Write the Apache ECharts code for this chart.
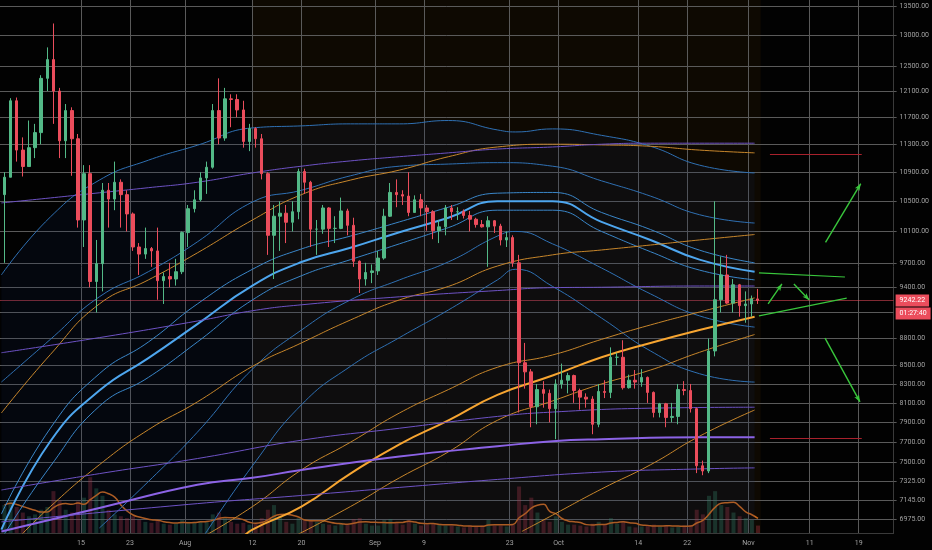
<!DOCTYPE html>
<html>
<head>
<meta charset="utf-8">
<script src="https://cdn.jsdelivr.net/npm/echarts/dist/echarts.min.js"></script>
<style>
  html, body { margin: 0; padding: 0; background: #020202; }
  #chart { width: 932px; height: 550px; }
</style>
</head>
<body>
<div id="chart"></div>
<script>
// ---- data ----
var firstDay = '2019-07-02';
// daily candles: [open, high, low, close]
var candles = [
  // Jul 2 - Jul 31
  [10590,10900,9700,10830],[10830,11990,10830,11950],[11950,12000,11050,11215],[11215,11400,10840,10980],
  [10980,11650,10980,11250],[11250,11600,11100,11470],[11470,12350,11300,12300],[12300,12800,12100,12600],
  [12600,13200,11600,12100],[12100,12150,11100,11350],[11350,11900,11100,11800],[11800,11850,10850,11380],
  [11380,11450,10150,10250],[10250,11000,9900,10880],[10880,11000,9400,9470],[9470,9990,9100,9690],
  [9690,10750,9350,10650],[10650,10750,10150,10530],[10530,11050,10380,10760],[10760,10800,10150,10590],
  [10590,10650,10100,10330],[10330,10350,9850,9900],[9900,9950,9550,9810],[9810,10150,9750,9880],
  [9880,9900,9650,9850],[9850,10150,9250,9480],[9480,9580,9200,9530],[9530,9700,9400,9500],
  [9500,9750,9420,9590],[9590,10100,9560,10085],
  // Aug
  [10085,10450,9900,10400],[10400,10650,10350,10520],[10520,10900,10500,10820],[10820,11050,10600,10970],
  [10970,11900,10950,11800],[11800,12300,11300,11390],[11390,12150,11350,11980],[11980,12050,11550,11970],
  [11970,12050,11700,11810],[11810,11950,11250,11340],[11340,11600,11200,11530],[11530,11550,11250,11380],
  [11380,11450,10800,10880],[10880,10900,9800,10050],[10050,10450,9500,10300],[10300,10500,9850,10340],
  [10340,10450,9950,10220],[10220,10500,10100,10360],[10360,10950,10260,10910],[10910,10950,10600,10760],
  [10760,10780,9900,10130],[10130,10250,9800,10130],[10130,10450,10070,10410],[10410,10420,9900,10140],
  [10140,10300,9950,10140],[10140,10550,10130,10370],[10370,10400,10050,10180],[10180,10280,9650,9720],
  [9720,9730,9330,9500],[9500,9700,9420,9580],[9580,9680,9450,9600],
  // Sep
  [9600,9850,9550,9760],[9760,10400,9740,10300],[10300,10750,10290,10620],[10620,10800,10420,10590],
  [10590,10650,10450,10570],[10570,10900,10300,10350],[10350,10580,10350,10520],[10520,10600,10300,10410],
  [10410,10450,10110,10360],[10360,10380,10000,10110],[10110,10250,9950,10160],[10160,10450,10050,10410],
  [10410,10450,10250,10360],[10360,10420,10250,10360],[10360,10390,10270,10310],[10310,10370,10100,10260],
  [10260,10280,10150,10190],[10190,10250,10150,10160],[10160,10300,9650,10240],[10240,10250,10080,10170],
  [10170,10200,9920,9990],[9990,10100,9900,10020],[10020,10050,9650,9700],[9700,9800,8000,8530],
  [8530,8750,8250,8430],[8430,8460,7850,8060],[8060,8300,7880,8240],[8240,8330,8050,8200],
  [8200,8240,7900,8040],[8040,8350,7730,8300],
  // Oct
  [8300,8520,8250,8340],[8340,8420,8200,8390],[8390,8400,8100,8230],[8230,8250,8030,8160],
  [8160,8200,8050,8140],[8140,8170,7780,7880],[7880,8300,7850,8220],[8220,8340,8150,8210],
  [8210,8700,8150,8590],[8590,8640,8500,8590],[8590,8780,8240,8260],[8260,8400,8250,8340],
  [8340,8450,8250,8320],[8320,8460,8270,8370],[8370,8380,8100,8210],[8210,8220,7950,8000],
  [8000,8100,7950,8090],[8090,8100,7850,7950],[7950,8100,7900,7960],[7960,8300,7880,8240],
  [8240,8330,8180,8230],[8230,8300,8000,8040],[8040,8050,7400,7470],[7470,7520,7380,7420],
  [7420,8800,7400,8660],[8660,10500,8600,9250],[9250,9780,9100,9550],[9550,9800,9200,9210],
  [9210,9500,9100,9430],[9430,9440,9050,9180],[9180,9350,8980,9200],
  // Nov
  [9200,9300,9050,9260],[9260,9380,9200,9242.22]
];
var volumes = [
  30,34,28,22,18,20,25,28,45,35,25,22,34,
  38,60,48,40,25,20,18,16,
  18,14,12,11,14,10,9,10,14,
  12,11,13,12,20,22,16,12,10,11,9,
  10,16,25,30,18,12,10,16,14,
  14,12,10,9,8,11,9,15,16,10,8,
  8,14,15,11,9,14,10,8,9,10,
  9,8,8,7,6,8,7,8,14,8,8,7,9,
  50,30,38,22,14,12,18,
  12,9,9,8,7,10,12,9,16,10,13,7,6,
  7,8,9,7,8,6,7,8,8,
  25,20,40,45,30,28,22,18,16,14,8
];

var xTickDates = ['2019-07-15','2019-07-23','2019-08-01','2019-08-12','2019-08-20','2019-09-01','2019-09-09',
                  '2019-09-23','2019-10-01','2019-10-14','2019-10-22','2019-11-01','2019-11-11','2019-11-19'];
var xTickLabels = ['15','23','Aug','12','20','Sep','9','23','Oct','14','22','Nov','11','19'];
var yTicks = [13500,13000,12500,12100,11700,11300,10900,10500,10100,9700,9400,9100,
              8800,8500,8300,8100,7900,7700,7500,7325,7145,6975];

var lastPrice = 9242.22;
var countdown = '01:27:40';

// moving averages, [date, price]
var maBlueTop = [['2019-07-02',9550],['2019-07-10',10290],['2019-07-18',10790],['2019-07-26',11070],['2019-08-03',11285],
  ['2019-08-12',11540],['2019-08-20',11570],['2019-08-28',11600],['2019-09-05',11600],['2019-09-13',11650],['2019-09-21',11510],
  ['2019-09-24',11480],['2019-09-30',11525],['2019-10-08',11430],['2019-10-16',11270],['2019-10-24',11000],['2019-11-02',10890]];
var maBlue2 = [['2019-07-02',8320],['2019-07-10',8790],['2019-07-18',9285],['2019-07-26',9590],['2019-08-03',9965],
  ['2019-08-12',10490],['2019-08-20',10650],['2019-08-28',10850],['2019-09-05',10985],['2019-09-13',11015],['2019-09-21',11035],
  ['2019-09-30',10985],['2019-10-08',10780],['2019-10-16',10570],['2019-10-24',10320],['2019-11-02',10210]];
var maBlue3a = [['2019-07-02',7020],['2019-07-10',7840],['2019-07-18',8410],['2019-07-26',8760],['2019-08-03',9200],
  ['2019-08-12',9620],['2019-08-20',9875],['2019-08-28',10040],['2019-09-05',10225],['2019-09-13',10420],['2019-09-21',10610],
  ['2019-09-30',10620],['2019-10-08',10350],['2019-10-16',10125],['2019-10-24',9860],['2019-11-02',9700]];
var maBlue3 = [['2019-07-02',6880],['2019-07-10',7710],['2019-07-18',8230],['2019-07-26',8580],['2019-08-03',8965],
  ['2019-08-12',9420],['2019-08-20',9710],['2019-08-28',9890],['2019-09-05',10090],['2019-09-13',10280],['2019-09-21',10500],
  ['2019-09-30',10500],['2019-10-08',10225],['2019-10-16',9990],['2019-10-24',9740],['2019-11-02',9590]];
var maBlue3b = [['2019-07-02',6800],['2019-07-10',7465],['2019-07-18',8065],['2019-07-26',8370],['2019-08-03',8760],
  ['2019-08-12',9248],['2019-08-20',9540],['2019-08-28',9740],['2019-09-05',9940],['2019-09-13',10150],['2019-09-21',10380],
  ['2019-09-30',10380],['2019-10-08',10100],['2019-10-16',9840],['2019-10-24',9610],['2019-11-02',9490]];
var maBlue4 = [['2019-07-18',6895],['2019-07-26',7320],['2019-08-03',7800],['2019-08-12',8460],['2019-08-20',8896],
  ['2019-08-28',9248],['2019-09-05',9489],['2019-09-13',9712],['2019-09-21',10040],['2019-09-24',10100],['2019-09-30',9940],
  ['2019-10-08',9636],['2019-10-16',9320],['2019-10-24',9060],['2019-11-02',8930]];
var maBlue5 = [['2019-08-04',6820],['2019-08-12',7470],['2019-08-20',8080],['2019-08-28',8490],['2019-09-05',8810],
  ['2019-09-13',9129],['2019-09-21',9489],['2019-09-24',9620],['2019-09-30',9410],['2019-10-08',9035],['2019-10-16',8660],
  ['2019-10-24',8410],['2019-11-02',8320]];
var maOrange1 = [['2019-07-02',7995],['2019-07-10',8620],['2019-07-18',9200],['2019-07-26',9489],['2019-08-03',9825],
  ['2019-08-12',10250],['2019-08-20',10590],['2019-08-28',10790],['2019-09-05',10930],['2019-09-13',11120],['2019-09-21',11260],
  ['2019-09-30',11300],['2019-10-08',11290],['2019-10-16',11270],['2019-10-24',11215],['2019-11-02',11175]];
var maOrange2 = [['2019-07-05',6820],['2019-07-10',7088],['2019-07-18',7480],['2019-07-26',7825],['2019-08-03',8110],
  ['2019-08-12',8490],['2019-08-20',8750],['2019-08-28',9012],['2019-09-05',9248],['2019-09-13',9410],['2019-09-21',9660],
  ['2019-09-30',9800],['2019-10-08',9862],['2019-10-16',9925],['2019-10-24',9990],['2019-11-02',10060]];
var maOrange3 = [['2019-08-03',6790],['2019-08-12',7088],['2019-08-20',7431],['2019-08-28',7700],['2019-09-05',7995],
  ['2019-09-13',8240],['2019-09-21',8480],['2019-09-30',8615],['2019-10-08',8790],['2019-10-16',8955],
  ['2019-10-24',9105],['2019-11-02',9272]];
var maOrange4 = [['2019-08-10',6790],['2019-08-12',6880],['2019-08-20',7088],['2019-08-28',7395],['2019-09-05',7680],
  ['2019-09-13',7920],['2019-09-21',8184],['2019-09-30',8390],['2019-10-08',8590],['2019-10-16',8750],
  ['2019-10-24',8896],['2019-11-02',9050]];
var maOrange5 = [['2019-08-18',6800],['2019-08-28',7088],['2019-09-05',7355],['2019-09-13',7605],['2019-09-21',7920],
  ['2019-09-30',8120],['2019-10-08',8300],['2019-10-16',8450],['2019-10-24',8645],['2019-11-02',8845]];
var maOrange6 = [['2019-09-25',6865],['2019-09-30',7010],['2019-10-08',7250],['2019-10-16',7480],['2019-10-24',7760],
  ['2019-11-02',8026]];
var maPurple1 = [['2019-07-02',10478],['2019-07-10',10545],['2019-07-18',10615],['2019-07-26',10685],['2019-08-03',10760],
  ['2019-08-12',10890],['2019-08-20',10985],['2019-08-28',11060],['2019-09-05',11120],['2019-09-13',11175],['2019-09-21',11230],
  ['2019-09-30',11260],['2019-10-08',11300],['2019-10-16',11315],['2019-10-24',11315],['2019-11-02',11315]];
var maPurple2 = [['2019-07-02',8640],['2019-07-18',8810],['2019-08-03',9000],['2019-08-12',9120],['2019-08-20',9190],
  ['2019-09-05',9285],['2019-09-21',9360],['2019-09-30',9395],['2019-10-08',9400],['2019-10-24',9415],['2019-11-02',9415]];
var maPurple3 = [['2019-07-02',7241],['2019-07-18',7395],['2019-08-03',7540],['2019-08-20',7720],['2019-09-05',7840],
  ['2019-09-21',7960],['2019-09-30',8005],['2019-10-16',8045],['2019-11-02',8055]];
var maPurple4 = [['2019-07-02',6865],['2019-07-18',7075],['2019-08-03',7290],['2019-08-12',7355],['2019-08-20',7430],
  ['2019-09-05',7560],['2019-09-21',7660],['2019-09-30',7710],['2019-10-08',7730],['2019-10-24',7750],['2019-11-02',7750]];
var maPurple5 = [['2019-07-02',6950],['2019-08-03',7115],['2019-08-20',7190],['2019-09-05',7265],['2019-09-21',7340],
  ['2019-10-08',7410],['2019-10-24',7440],['2019-11-02',7450]];

// hand drawings on the right
var trendLines = [
  [['2019-11-02 17:00',9575],['2019-11-16 18:00',9525]],
  [['2019-11-02 17:00',9060],['2019-11-17 01:00',9270]]
];
var arrows = [
  [['2019-11-04 05:00',9200],['2019-11-06 11:00',9440]],
  [['2019-11-08 10:00',9440],['2019-11-10 22:00',9248]],
  [['2019-11-13 14:00',9960],['2019-11-19 08:00',10740]],
  [['2019-11-13 12:00',8805],['2019-11-19 05:00',8110]]
];
var levels = [
  [['2019-11-04 12:00',11160],['2019-11-19 12:00',11160]],
  [['2019-11-04 12:00',7740],['2019-11-19 12:00',7740]]
];

// ---- helpers ----
function dayIndex(s) {
  var p = s.split(/[- :]/);
  var t = Date.UTC(+p[0], +p[1] - 1, +p[2], +(p[3] || 0), +(p[4] || 0));
  return (t - Date.UTC(2019, 6, 1)) / 86400000;
}
function seg(pair) {
  return [{ coord: [dayIndex(pair[0][0]), pair[0][1]] }, { coord: [dayIndex(pair[1][0]), pair[1][1]] }];
}

var d0 = dayIndex(firstDay);
var xMin = 0.776, xMax = 146.7;
var upColor = '#53b987', downColor = '#eb4d5c';

var candleData = candles.map(function (c, i) { return [d0 + i + 0.5, c[0], c[3], c[2], c[1]]; });
var volData = volumes.map(function (v, i) {
  var up = candles[i][3] >= candles[i][0];
  return { value: [d0 + i + 0.5, v], itemStyle: { color: up ? 'rgba(60,150,110,0.32)' : 'rgba(200,60,75,0.32)' } };
});
var volMA = volumes.map(function (v, i) {
  var s = 0, n = 0;
  for (var k = Math.max(0, i - 4); k <= i; k++) { s += volumes[k]; n++; }
  return [d0 + i + 0.5, s / n];
});

var blueThin = '#2f70b3', blueMid = '#3a86c8', blueThick = '#4ea6ee';
var orThin = '#c7862b', orThick = '#f7a531';
var puThin = '#6d52c4', puThick = '#8c63e6';
var maLines = [
  { data: maBlueTop, color: blueThin, width: 1, area: true },
  { data: maBlue2, color: blueThin, width: 1 },
  { data: maBlue3a, color: blueMid, width: 1 },
  { data: maBlue3, color: blueThick, width: 2 },
  { data: maBlue3b, color: blueMid, width: 1 },
  { data: maBlue4, color: blueThin, width: 1 },
  { data: maBlue5, color: blueThin, width: 1 },
  { data: maOrange1, color: orThin, width: 1 },
  { data: maOrange2, color: orThin, width: 1 },
  { data: maOrange3, color: orThin, width: 1 },
  { data: maOrange4, color: orThick, width: 2 },
  { data: maOrange5, color: orThin, width: 1 },
  { data: maOrange6, color: orThin, width: 1 },
  { data: maPurple1, color: puThin, width: 1 },
  { data: maPurple2, color: puThin, width: 1 },
  { data: maPurple3, color: puThin, width: 1 },
  { data: maPurple4, color: puThick, width: 2 },
  { data: maPurple5, color: puThin, width: 1 }
];

var xTickVals = xTickDates.map(dayIndex);
var yLabelVals = yTicks.filter(function (v) { return v !== 9100; });
var textColor = '#a3a3a3';
// marker lines are not pixel-snapped, so a brighter grey ends up as a faint 1-2px line
var gridStyle = { color: '#5a5a5a', width: 1, type: 'solid' };

var series = [];

// background tint
series.push({
  type: 'line', data: [], xAxisIndex: 0, yAxisIndex: 0, z: 0, silent: true,
  markArea: {
    silent: true,
    itemStyle: { color: 'rgba(70,42,5,0.18)' },
    data: [[{ xAxis: dayIndex('2019-08-12') }, { xAxis: d0 + candles.length }]]
  }
});

// volume
series.push({
  type: 'bar', xAxisIndex: 1, yAxisIndex: 1, data: volData, barWidth: 4, z: 1, silent: true
});
series.push({
  type: 'line', xAxisIndex: 1, yAxisIndex: 1, data: volMA, smooth: true, symbol: 'none', z: 1, silent: true,
  lineStyle: { color: '#c8661c', width: 1.5 }
});

// moving averages
maLines.forEach(function (m) {
  var s = {
    type: 'line', xAxisIndex: 0, yAxisIndex: 0, smooth: true, symbol: 'none', z: 2, silent: true,
    data: m.data.map(function (p) { return [dayIndex(p[0]), p[1]]; }),
    lineStyle: { color: m.color, width: m.width }
  };
  if (m.area) s.areaStyle = { origin: 'start', color: 'rgba(22,40,85,0.22)' };
  series.push(s);
});

var priceLabel = { show: true, position: 'end', distance: 2, color: '#fff', backgroundColor: downColor,
                   padding: [3, 4, 2, 4], fontSize: 7, fontFamily: 'Roboto' };

// grid lines and the last price line ride on the candle series
var gridItems = yTicks.map(function (v) { return { yAxis: v, lineStyle: gridStyle, label: { show: false } }; })
  .concat(xTickVals.map(function (d) { return { xAxis: d, lineStyle: gridStyle, label: { show: false } }; }));

series.push({
  type: 'candlestick', xAxisIndex: 0, yAxisIndex: 0, z: 3, silent: true,
  encode: { x: 0, y: [1, 2, 3, 4] },
  data: candleData, barWidth: 3,
  itemStyle: { color: upColor, color0: downColor, borderColor: upColor, borderColor0: downColor, borderWidth: 1 },
  markLine: {
    silent: true, symbol: 'none', animation: false, z: 1,
    data: gridItems.concat([
      {
        yAxis: lastPrice, lineStyle: { color: 'rgba(235,77,92,0.55)', width: 1, type: 'solid' },
        label: Object.assign({ formatter: lastPrice.toFixed(2) }, priceLabel)
      },
      {
        yAxis: lastPrice, lineStyle: { color: 'rgba(0,0,0,0)', width: 0 },
        label: Object.assign({ formatter: countdown, offset: [0, 13] }, priceLabel)
      }
    ])
  }
});

// drawings
series.push({
  type: 'line', data: [], xAxisIndex: 0, yAxisIndex: 0, z: 4, silent: true,
  markLine: {
    silent: true, animation: false, symbol: 'none', label: { show: false },
    data: trendLines.map(function (t) {
      var s = seg(t); s[0].lineStyle = { color: '#39c63c', width: 1.2, type: 'solid' }; return s;
    }).concat(levels.map(function (t) {
      var s = seg(t); s[0].lineStyle = { color: '#a8212c', width: 1.2, type: 'solid' }; return s;
    }))
  }
});
series.push({
  type: 'line', data: [], xAxisIndex: 0, yAxisIndex: 0, z: 4, silent: true,
  markLine: {
    silent: true, animation: false, symbol: ['none', 'arrow'], symbolSize: [4, 7], label: { show: false },
    lineStyle: { color: '#39c63c', width: 1.4, type: 'solid' },
    data: arrows.map(seg)
  }
});

var option = {
  backgroundColor: '#020202',
  animation: false,
  textStyle: { fontFamily: 'Roboto' },
  grid: [
    { left: 0, right: 38, top: 0, bottom: 17 },
    { left: 0, right: 38, top: 440, bottom: 17 }
  ],
  xAxis: [
    {
      type: 'value', gridIndex: 0, min: xMin, max: xMax,
      axisLine: { show: true, lineStyle: { color: '#3a3a3a' } },
      axisTick: { show: false },
      splitLine: { show: false },
      axisLabel: {
        customValues: xTickVals, color: textColor, fontSize: 7, margin: 7,
        formatter: function (v) {
          for (var i = 0; i < xTickVals.length; i++) if (Math.abs(xTickVals[i] - v) < 1e-6) return xTickLabels[i];
          return '';
        }
      }
    },
    { type: 'value', gridIndex: 1, min: xMin, max: xMax, show: false }
  ],
  yAxis: [
    {
      type: 'log', gridIndex: 0, position: 'right', min: 6851, max: 13605,
      axisLine: { show: true, lineStyle: { color: '#3a3a3a' } },
      axisTick: { show: true, customValues: yLabelVals, length: 3, lineStyle: { color: '#5a5a5a' } },
      splitLine: { show: false },
      axisLabel: {
        customValues: yLabelVals, color: textColor, fontSize: 7, margin: 6,
        formatter: function (v) { return (+v).toFixed(2); }
      }
    },
    { type: 'value', gridIndex: 1, min: 0, max: 100, show: false }
  ],
  series: series
};

var myChart = echarts.init(document.getElementById('chart'));
myChart.setOption(option);
</script>
</body>
</html>
